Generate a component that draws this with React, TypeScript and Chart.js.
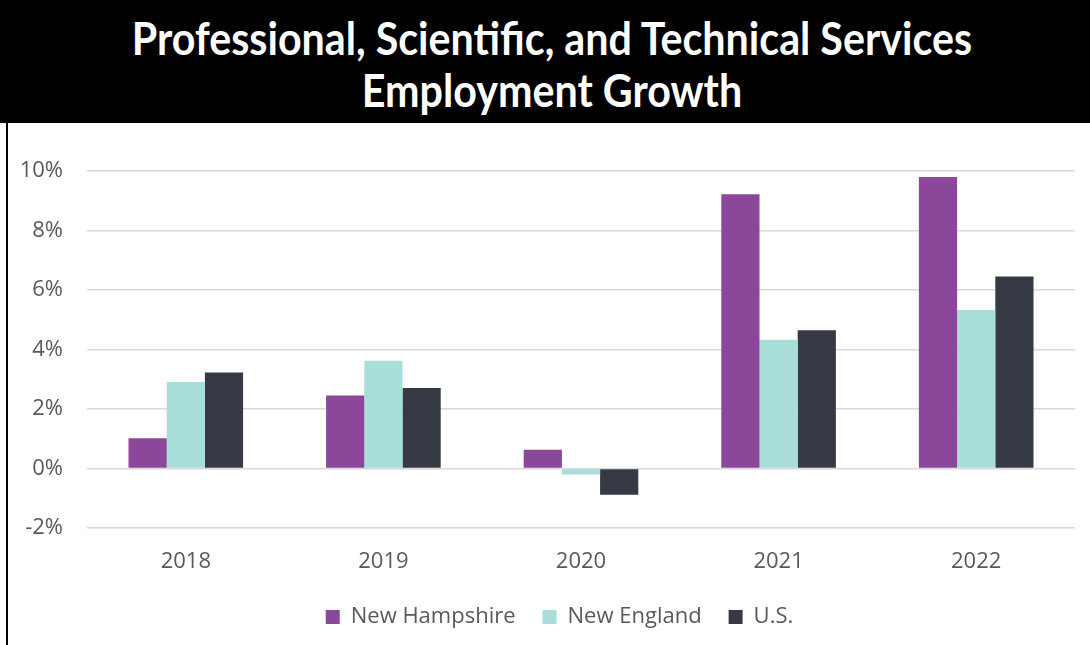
import React, { useEffect, useRef } from "react";
import { Chart, registerables } from "chart.js";

Chart.register(...registerables);

const categories = ["2018", "2019", "2020", "2021", "2022"];
const newHampshire = [1.02, 2.45, 0.63, 9.22, 9.8];
const newEngland = [2.91, 3.62, -0.2, 4.33, 5.33];
const us = [3.23, 2.71, -0.88, 4.65, 6.45];
const seriesNames = ["New Hampshire", "New England", "U.S."];
const seriesColors = ["#8B4799", "#A8DDD9", "#363A45"];
const titleLines = ["Professional, Scientific, and Technical Services", "Employment Growth"];

const legendShift = {
  id: "legendShift",
  afterLayout(chart: any) {
    const lg = chart.legend;
    if (lg) {
      lg.left += 12;
      lg.right += 12;
    }
  },
};

export default function App() {
  const ref = useRef<HTMLCanvasElement>(null);
  useEffect(() => {
    const ctx = ref.current!;
    const font = { family: "'Open Sans', sans-serif", size: 22 };
    const chart = new Chart(ctx, {
      type: "bar",
      data: {
        labels: categories,
        datasets: [newHampshire, newEngland, us].map((d, i) => ({
          label: seriesNames[i],
          data: d,
          backgroundColor: seriesColors[i],
          borderWidth: 0,
          barPercentage: 1,
          categoryPercentage: 0.58,
        })),
      },
      plugins: [legendShift],
      options: {
        animation: false,
        responsive: false,
        maintainAspectRatio: false,
        layout: { padding: { left: 12, right: 15, top: 48, bottom: 7 } },
        plugins: {
          title: { display: false },
          tooltip: { enabled: false },
          legend: {
            position: "bottom",
            labels: {
              boxWidth: 14,
              boxHeight: 14,
              padding: 27,
              color: "#595959",
              font,
            },
          },
        },
        scales: {
          x: {
            grid: { display: false, drawTicks: false },
            border: { display: false },
            ticks: { color: "#595959", font, padding: 21 },
            afterFit: (s: any) => {
              s.height = 51;
            },
          },
          y: {
            min: -2,
            max: 10,
            grid: { color: "#d9d9d9", lineWidth: 1.5, drawTicks: false },
            border: { display: false },
            ticks: {
              stepSize: 2,
              color: "#595959",
              font,
              padding: 24,
              callback: (v: any) => v + "%",
            },
            afterFit: (s: any) => {
              s.width = 67;
            },
          },
        },
      },
    });
    return () => chart.destroy();
  }, []);

  return (
    <div style={{ position: "absolute", left: 0, top: 0, width: 1090, height: 645, background: "#fff", overflow: "hidden" }}>
      <div
        style={{
          position: "absolute",
          left: 0,
          top: 0,
          width: 1090,
          height: 123,
          background: "#000",
          color: "#fff",
          fontFamily: "Lato, sans-serif",
          fontWeight: 700,
          fontSize: 45,
          lineHeight: "52px",
          textAlign: "center",
          paddingTop: 12,
          boxSizing: "border-box",
        }}
      >
        {titleLines.map((t) => (
          <div key={t} style={{ transform: "translateX(7px) scaleX(0.916)", transformOrigin: "center", whiteSpace: "nowrap" }}>
            {t}
          </div>
        ))}
      </div>
      <div style={{ position: "absolute", left: 6, top: 123, width: 2, height: 522, background: "#000" }} />
      <canvas ref={ref} width={1082} height={522} style={{ position: "absolute", left: 8, top: 123 }} />
    </div>
  );
}
